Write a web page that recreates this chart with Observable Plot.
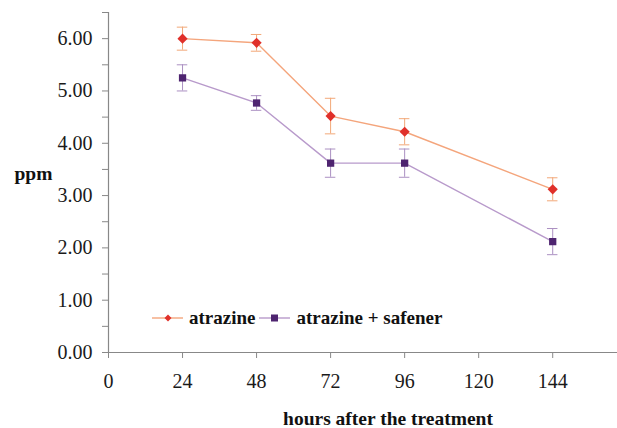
<!DOCTYPE html>
<html><head><meta charset="utf-8">
<script src="https://cdn.jsdelivr.net/npm/d3@7"></script>
<script src="https://cdn.jsdelivr.net/npm/@observablehq/plot@0.6"></script>
<style>
body{margin:0;background:#fff;}
#wrap{position:relative;width:617px;height:428px;font-family:"Liberation Serif","Times New Roman",serif;}
#legend{position:absolute;left:152px;top:306px;display:flex;align-items:center;font-size:19px;font-weight:bold;color:#111;line-height:24px;}
#legend .item{display:flex;align-items:center;margin-right:4px;}
#legend svg{margin-right:6px;}
</style></head>
<body><div id="wrap"><div id="legend"></div></div>
<script>
const hours = [24, 48, 72, 96, 144];
const atrazine = [6.00, 5.92, 4.52, 4.22, 3.12];
const atrazineErr = [0.22, 0.16, 0.34, 0.25, 0.22];
const safener = [5.25, 4.77, 3.62, 3.62, 2.12];
const safenerErr = [0.25, 0.14, 0.27, 0.27, 0.25];
const xTicks = [0, 24, 48, 72, 96, 120, 144];
const yTicks = [0, 1, 2, 3, 4, 5, 6];
const yMinor = [0.5, 1.5, 2.5, 3.5, 4.5, 5.5, 6.5];
const seriesNames = ["atrazine", "atrazine + safener"];

const FONT = '"Liberation Serif","Times New Roman",serif';
const colors = {
  atrazine: {line: "#f4a57c", err: "#f2a878", mark: "#e0302a", symbol: "diamond2"},
  safener: {line: "#b89acb", err: "#ab90c2", mark: "#4e2470", symbol: "square"}
};

const A = hours.map((h, i) => ({x: h, y: atrazine[i], e: atrazineErr[i]}));
const S = hours.map((h, i) => ({x: h, y: safener[i], e: safenerErr[i]}));
const cap = 1.7;

function seriesMarks(data, c, r) {
  return [
    Plot.line(data, {x: "x", y: "y", stroke: c.line, strokeWidth: 1.4}),
    Plot.ruleX(data, {x: "x", y1: d => d.y - d.e, y2: d => d.y + d.e, stroke: c.err, strokeWidth: 1}),
    Plot.ruleY(data, {y: d => d.y - d.e, x1: d => d.x - cap, x2: d => d.x + cap, stroke: c.err, strokeWidth: 1}),
    Plot.ruleY(data, {y: d => d.y + d.e, x1: d => d.x - cap, x2: d => d.x + cap, stroke: c.err, strokeWidth: 1}),
    Plot.dot(data, {x: "x", y: "y", symbol: c.symbol, r: r, fill: c.mark, stroke: "none"})
  ];
}

const chart = Plot.plot({
  width: 617, height: 428,
  marginLeft: 108, marginRight: 0, marginTop: 12, marginBottom: 76,
  style: {fontFamily: FONT, fontSize: "20px", color: "#111", background: "#fff"},
  x: {domain: [0, 165]},
  y: {domain: [0, 6.5]},
  marks: [
    Plot.ruleY([0], {stroke: "#888", strokeWidth: 1.2}),
    Plot.ruleX([0], {stroke: "#888", strokeWidth: 1.2}),
    Plot.axisY(yMinor, {tickSize: 6, stroke: "#888", tickFormat: () => "", label: null}),
    Plot.axisY(yTicks, {tickSize: 6, stroke: "#888", tickPadding: 10, tickFormat: d => d.toFixed(2), label: null, fontSize: 20, fontFamily: FONT, fill: "#1a1a1a"}),
    Plot.axisX(xTicks, {tickSize: 6, stroke: "#888", tickPadding: 15, tickFormat: d => String(d), label: null, fontSize: 20, fontFamily: FONT, fill: "#1a1a1a"}),
    Plot.text(["ppm"], {frameAnchor: "left", dx: -94, dy: -9, fontWeight: "bold", fontSize: 19.5, fontFamily: FONT, fill: "#111", textAnchor: "start"}),
    Plot.text(["hours after the treatment"], {frameAnchor: "bottom", dx: 25, dy: 72, fontWeight: "bold", fontSize: 19.5, fontFamily: FONT, fill: "#111"}),
    ...seriesMarks(A, colors.atrazine, 4.6),
    ...seriesMarks(S, colors.safener, 4.1)
  ]
});
const wrap = document.getElementById("wrap");
wrap.insertBefore(chart, wrap.firstChild);

const legend = document.getElementById("legend");
[colors.atrazine, colors.safener].forEach((c, i) => {
  const item = document.createElement("div");
  item.className = "item";
  const shape = c.symbol === "diamond2"
    ? `<path d="M16,5.5 L19.5,9 L16,12.5 L12.5,9 Z" fill="${c.mark}"/>`
    : `<rect x="12" y="5.5" width="7" height="7" fill="${c.mark}"/>`;
  item.innerHTML = `<svg width="31" height="18"><line x1="0" y1="9" x2="31" y2="9" stroke="${c.line}" stroke-width="1.4"/>${shape}</svg><span>${seriesNames[i]}</span>`;
  legend.appendChild(item);
});
</script></body></html>
